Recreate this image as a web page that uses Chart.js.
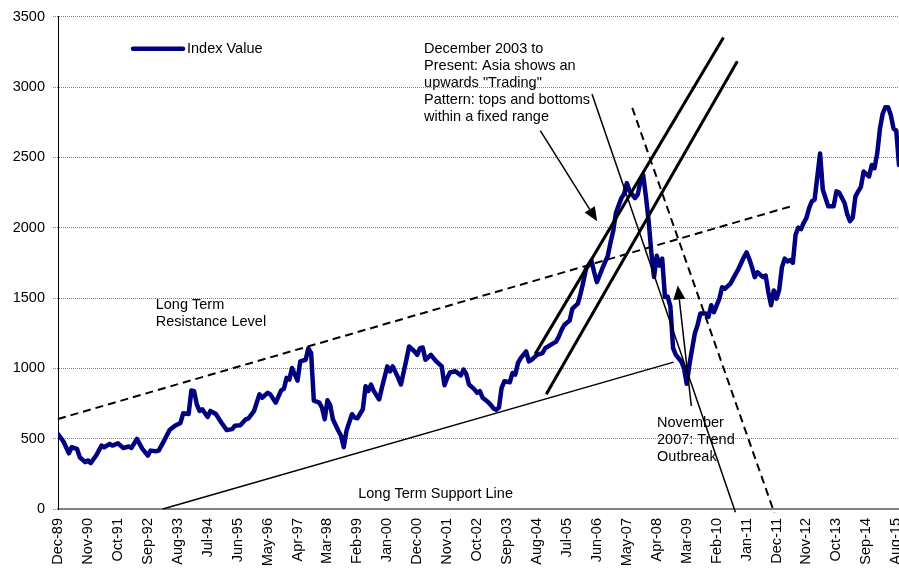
<!DOCTYPE html>
<html>
<head>
<meta charset="utf-8">
<script src="https://cdn.jsdelivr.net/npm/chart.js@4"></script>
<style>
    html, body {margin: 0; padding: 0; background: #fff;}
    #wrap {width: 899px; height: 572px;}
</style>
</head>
<body>
<div id="wrap"><canvas id="chart" width="899" height="572"></canvas></div>
<script>
// months counted from Dec-89 (0) and the index value read for that month
const monthIndex = [
    0, 2, 4, 5, 7, 8, 10, 11, 12, 14, 16, 17, 19, 20, 22, 24, 26, 27, 29, 31,
    33, 34, 36, 37, 39, 41, 43, 45, 46, 48, 49, 50, 51, 52, 53, 55, 56, 58, 60, 62,
    64, 65, 67, 69, 70, 72, 74, 75, 77, 78, 80, 82, 83, 84, 85, 86, 88, 89, 91, 92,
    93, 94, 96, 97, 98, 99, 100, 101, 103, 104, 105, 106, 108, 109, 110, 112, 113, 114, 115, 116,
    118, 119, 121, 122, 123, 125, 126, 128, 129, 131, 132, 133, 134, 135, 137, 139, 141, 142, 143, 144,
    146, 148, 149, 150, 151, 153, 154, 155, 156, 158, 159, 160, 161, 162, 163, 164, 166, 167, 168, 169,
    170, 172, 173, 174, 176, 178, 179, 181, 183, 184, 185, 186, 188, 189, 191, 192, 193, 194, 196, 197,
    198, 199, 200, 202, 203, 204, 205, 207, 208, 209, 210, 212, 213, 214, 215, 216, 217, 218, 219, 220,
    221, 222, 223, 224, 225, 226, 227, 229, 230, 231, 232, 234, 235, 236, 238, 239, 240, 241, 243, 244,
    245, 247, 249, 250, 252, 253, 254, 255, 256, 257, 259, 260, 261, 262, 263, 264, 265, 266, 267, 268,
    269, 270, 271, 272, 273, 274, 275, 276, 277, 278, 279, 280, 281, 282, 283, 285, 286, 287, 289, 290,
    291, 292, 293, 294, 295, 296, 298, 299, 300, 301, 302, 303, 304, 305, 306, 307, 308, 309
];
const indexValues = [
    533, 480, 396, 439, 427, 368, 333, 345, 326, 380, 451, 439, 463, 451, 467, 434, 444, 434, 498, 427,
    380, 415, 411, 415, 486, 561, 592, 612, 680, 675, 843, 838, 744, 697, 708, 655, 697, 675, 615, 561,
    568, 592, 596, 638, 645, 695, 815, 791, 826, 815, 756, 843, 855, 932, 920, 1002, 913, 1049, 1061, 1143,
    1108, 770, 756, 720, 638, 773, 740, 638, 556, 520, 439, 556, 674, 650, 645, 709, 873, 838, 885, 840,
    779, 862, 1014, 979, 1014, 932, 885, 1061, 1155, 1120, 1096, 1143, 1148, 1061, 1096, 1049, 1014, 880, 932, 970,
    979, 950, 991, 960, 885, 850, 826, 838, 791, 760, 740, 715, 705, 720, 862, 908, 901, 967, 955, 1037,
    1073, 1120, 1049, 1061, 1096, 1108, 1143, 1167, 1190, 1225, 1272, 1308, 1340, 1425, 1460, 1530, 1613, 1706, 1765, 1683,
    1613, 1660, 1710, 1800, 1894, 1977, 2106, 2210, 2240, 2317, 2260, 2211, 2235, 2329, 2376, 2223, 2050, 1824, 1650, 1800,
    1730, 1780, 1507, 1510, 1440, 1143, 1096, 1049, 1002, 890, 1026, 1250, 1308, 1390, 1390, 1366, 1449, 1400, 1495, 1577,
    1566, 1601, 1671, 1706, 1790, 1824, 1777, 1718, 1648, 1683, 1648, 1660, 1542, 1449, 1554, 1495, 1560, 1720, 1780, 1760,
    1770, 1750, 1950, 2000, 1990, 2035, 2070, 2141, 2188, 2200, 2364, 2528, 2270, 2211, 2153, 2153, 2258, 2250, 2176, 2094,
    2047, 2071, 2223, 2258, 2290, 2399, 2364, 2446, 2423, 2528, 2704, 2810, 2857, 2857, 2800, 2704, 2690, 2446
];

const tickLabels = [
    'Dec-89', 'Nov-90', 'Oct-91', 'Sep-92', 'Aug-93', 'Jul-94', 'Jun-95', 'May-96', 'Apr-97', 'Mar-98',
    'Feb-99', 'Jan-00', 'Dec-00', 'Nov-01', 'Oct-02', 'Sep-03', 'Aug-04', 'Jul-05', 'Jun-06', 'May-07',
    'Apr-08', 'Mar-09', 'Feb-10', 'Jan-11', 'Dec-11', 'Nov-12', 'Oct-13', 'Sep-14', 'Aug-15'
];

// trend lines, in [month, value] pairs
const resistanceLine = [[0, 640], [269, 2150]];
const supportLine = [[38.5, 0], [226.2, 1044]];
const channelUpper = [[175.3, 1101], [244.5, 3352]];
const channelLower = [[179.4, 815], [249.6, 3183]];
const breakLine = [[196.2, 2951], [248.9, -23]];
const breakDashed = [[211.0, 2852], [263.2, -28]];

// arrows: from -> to (head at "to")
const arrows = [
    [[177.2, 2690], [198.1, 2046]],
    [[232.7, 732], [227.7, 1589]]
];

const notes = [
    {at: [134.5, 3268], lines: ['December 2003 to', 'Present: Asia shows an', 'upwards "Trading"', 'Pattern: tops and bottoms', 'within a fixed range']},
    {at: [35.9, 1451], lines: ['Long Term', 'Resistance Level']},
    {at: [110.3, 106], lines: ['Long Term Support Line']},
    {at: [220.1, 608], lines: ['November', '2007: Trend', 'Outbreak']}
];

const FONT = '"Liberation Sans", Arial, sans-serif';
const FONT_SIZE = 14.5;

function toPoints(pairs) {
    return pairs.map(p => ({x: p[0], y: p[1]}));
}

function trendSet(pairs, width, dash) {
    return {
        data: toPoints(pairs),
        borderColor: '#000',
        borderWidth: width,
        borderDash: dash || [],
        pointRadius: 0,
        clip: false
    };
}

const annotationPlugin = {
    id: 'notes',
    afterDatasetsDraw(chart) {
        const ctx = chart.ctx;
        const xs = chart.scales.x;
        const ys = chart.scales.y;
        const area = chart.chartArea;

        ctx.save();
        // arrows
        ctx.strokeStyle = '#000';
        ctx.fillStyle = '#000';
        ctx.lineWidth = 1.5;
        arrows.forEach(a => {
            const x1 = xs.getPixelForValue(a[0][0]);
            const y1 = ys.getPixelForValue(a[0][1]);
            const x2 = xs.getPixelForValue(a[1][0]);
            const y2 = ys.getPixelForValue(a[1][1]);
            const ang = Math.atan2(y2 - y1, x2 - x1);
            const len = 14, half = 6;
            const bx = x2 - len * Math.cos(ang);
            const by = y2 - len * Math.sin(ang);
            ctx.beginPath();
            ctx.moveTo(x1, y1);
            ctx.lineTo(bx, by);
            ctx.stroke();
            ctx.beginPath();
            ctx.moveTo(x2, y2);
            ctx.lineTo(bx + half * Math.sin(ang), by - half * Math.cos(ang));
            ctx.lineTo(bx - half * Math.sin(ang), by + half * Math.cos(ang));
            ctx.closePath();
            ctx.fill();
        });

        // text notes
        ctx.font = FONT_SIZE + 'px ' + FONT;
        ctx.textAlign = 'left';
        ctx.textBaseline = 'middle';
        notes.forEach(n => {
            const x = xs.getPixelForValue(n.at[0]);
            const y = ys.getPixelForValue(n.at[1]);
            n.lines.forEach((line, i) => ctx.fillText(line, x, y + i * 16.8));
        });

        // legend
        const lx = area.left + 75;
        const ly = area.top + 32;
        ctx.strokeStyle = '#000080';
        ctx.lineWidth = 4.5;
        ctx.lineCap = 'round';
        ctx.beginPath();
        ctx.moveTo(lx, ly);
        ctx.lineTo(lx + 50, ly);
        ctx.stroke();
        ctx.fillText('Index Value', lx + 54, ly);
        ctx.restore();
    }
};

new Chart(document.getElementById('chart'), {
    type: 'line',
    data: {
        datasets: [
            trendSet(channelUpper, 3),
            trendSet(channelLower, 3),
            trendSet(breakLine, 1.5),
            trendSet(breakDashed, 2, [8, 5]),
            trendSet(resistanceLine, 2, [8, 5]),
            trendSet(supportLine, 1.5),
            {
                label: 'Index Value',
                data: monthIndex.map((m, i) => ({x: m, y: indexValues[i]})),
                borderColor: '#000080',
                borderWidth: 4.5,
                borderJoinStyle: 'round',
                borderCapStyle: 'round',
                pointRadius: 0,
                tension: 0
            }
        ]
    },
    options: {
        responsive: false,
        animation: false,
        events: [],
        layout: {padding: {top: 12, right: 0, left: 0, bottom: 0}},
        plugins: {
            legend: {display: false},
            tooltip: {enabled: false}
        },
        scales: {
            x: {
                type: 'linear',
                min: 0,
                max: 309,
                afterFit(scale) {
                    scale.height = 63;
                    scale.paddingLeft = 0;
                    scale.paddingRight = 0;
                },
                grid: {display: false, drawTicks: false},
                border: {display: true, color: '#808080', width: 2},
                ticks: {
                    stepSize: 11,
                    includeBounds: false,
                    autoSkip: false,
                    minRotation: 90,
                    maxRotation: 90,
                    padding: 9,
                    color: '#000',
                    font: {family: FONT, size: FONT_SIZE},
                    callback: v => tickLabels[Math.round(v / 11)] || ''
                }
            },
            y: {
                min: 0,
                max: 3500,
                afterFit(scale) {
                    scale.width = 58;
                },
                grid: {
                    color: '#808080',
                    lineWidth: 1,
                    tickLength: 5,
                    tickBorderDash: [1, 1]
                },
                border: {display: true, color: '#000', width: 1, dash: [1, 1]},
                ticks: {
                    stepSize: 500,
                    padding: 8,
                    color: '#000',
                    font: {family: FONT, size: FONT_SIZE},
                    callback: v => String(v)
                }
            }
        }
    },
    plugins: [annotationPlugin]
});
</script>
</body>
</html>
